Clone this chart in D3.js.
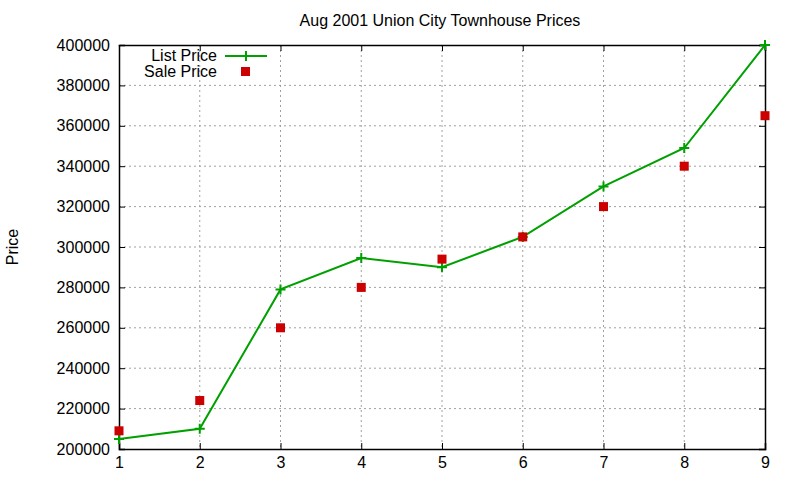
<!DOCTYPE html>
<html><head><meta charset="utf-8">
<script src="https://cdn.jsdelivr.net/npm/d3@7"></script>
<style>body{margin:0;background:#fff}svg{display:block}text{font-family:"Liberation Sans",Arial,sans-serif}</style>
</head><body>
<svg id="c" width="800" height="480"></svg>
<script>
const xValues = [1,2,3,4,5,6,7,8,9];
const listPrice = [205000,210000,279000,294500,290000,305000,330000,349000,400000];
const salePrice = [209000,224000,260000,280000,294000,305000,320000,340000,365000];
const yTicks = [200000,220000,240000,260000,280000,300000,320000,340000,360000,380000,400000];
const xTicks = [1,2,3,4,5,6,7,8,9];
const title = "Aug 2001 Union City Townhouse Prices";
const yLabel = "Price";
const seriesNames = ["List Price","Sale Price"];

const svg = d3.select("#c");
const L=119, R=765, T=45, B=449;
const x = d3.scaleLinear().domain([1,9]).range([L,R]);
const y = d3.scaleLinear().domain([200000,400000]).range([B,T]);
const green="#00a000", red="#cc0000";

// grid
const g = svg.append("g");
g.selectAll("line.gx").data(xTicks.slice(1,-1)).enter().append("line")
 .attr("x1",d=>x(d)).attr("x2",d=>x(d)).attr("y1",T).attr("y2",B)
 .attr("stroke","#a0a0a0").attr("stroke-dasharray","2,3").attr("stroke-width",1);
g.selectAll("line.gy").data(yTicks.slice(1,-1)).enter().append("line")
 .attr("x1",L).attr("x2",R).attr("y1",d=>y(d)).attr("y2",d=>y(d))
 .attr("stroke","#a0a0a0").attr("stroke-dasharray","2,3").attr("stroke-width",1);

// axes
const axL = d3.axisLeft(y).tickValues(yTicks).tickSize(-6).tickPadding(9).tickFormat(d3.format("d"));
const axB = d3.axisBottom(x).tickValues(xTicks).tickSize(-6).tickPadding(8).tickFormat(d3.format("d"));
const axR = d3.axisRight(y).tickValues(yTicks).tickSize(-6).tickFormat("");
const axT = d3.axisTop(x).tickValues(xTicks).tickSize(-6).tickFormat("");
function style(sel){
  sel.selectAll("path").attr("stroke","#000").attr("stroke-width",1.5);
  sel.selectAll("line").attr("stroke","#000").attr("stroke-width",1);
  sel.selectAll("text").attr("fill","#000").style("font-size","16px").style("font-family","'Liberation Sans',Arial,sans-serif");
}
svg.append("g").attr("transform",`translate(${L},0)`).call(axL).call(style);
svg.append("g").attr("transform",`translate(0,${B})`).call(axB).call(style);
svg.append("g").attr("transform",`translate(${R},0)`).call(axR).call(style);
svg.append("g").attr("transform",`translate(0,${T})`).call(axT).call(style);
svg.selectAll(".domain").attr("d",function(){return d3.select(this).attr("d").replace(/M([\d.]+),6V/,"M$1,0V")});

// title & label
svg.append("text").attr("x",(L+R)/2-2).attr("y",26).attr("text-anchor","middle")
 .style("font-size","16px").text(title);
svg.append("text").attr("transform","translate(18,247) rotate(-90)").attr("text-anchor","middle")
 .style("font-size","16px").text(yLabel);

// list line
const pts = xValues.map((d,i)=>[d,listPrice[i]]);
svg.append("path").datum(pts).attr("fill","none").attr("stroke",green).attr("stroke-width",2)
 .attr("d",d3.line().x(d=>x(d[0])).y(d=>y(d[1])));
function plus(cx,cy){
  svg.append("path").attr("d",`M${cx-5},${cy}H${cx+5}M${cx},${cy-5}V${cy+5}`)
   .attr("stroke",green).attr("stroke-width",2);
}
pts.forEach(p=>plus(x(p[0]),y(p[1])));
// sale points
svg.selectAll("rect.s").data(xValues.map((d,i)=>[d,salePrice[i]])).enter().append("rect")
 .attr("x",d=>x(d[0])-4.5).attr("y",d=>y(d[1])-4.5).attr("width",9).attr("height",9).attr("fill",red);

// legend
svg.append("text").attr("x",217).attr("y",61).attr("text-anchor","end").style("font-size","16px").text(seriesNames[0]);
svg.append("text").attr("x",217).attr("y",77).attr("text-anchor","end").style("font-size","16px").text(seriesNames[1]);
svg.append("line").attr("x1",225).attr("x2",267).attr("y1",56).attr("y2",56).attr("stroke",green).attr("stroke-width",2);
plus(246,56);
svg.append("rect").attr("x",241).attr("y",67).attr("width",9).attr("height",9).attr("fill",red);
</script>
</body></html>
